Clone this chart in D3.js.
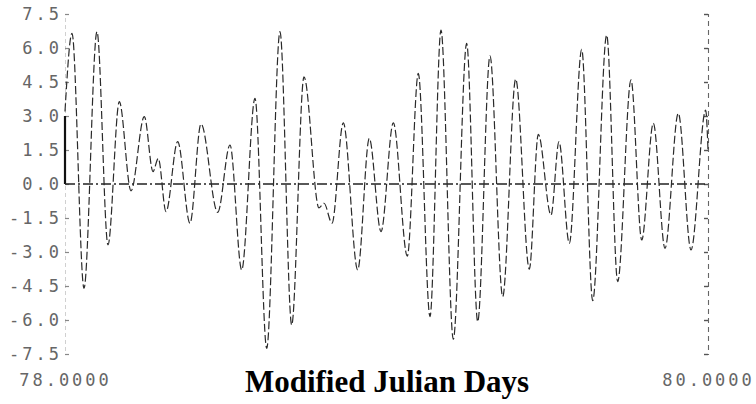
<!DOCTYPE html>
<html>
<head>
<meta charset="utf-8">
<script src="https://cdn.jsdelivr.net/npm/d3@7"></script>
<style>
  html, body { margin: 0; padding: 0; background: #fff; }
  svg { display: block; }
  .tick-label { font-family: "DejaVu Sans Mono", monospace; font-size: 17px; letter-spacing: 3px; fill: #666; }
  .title { font-family: "Liberation Serif", "Times New Roman", serif; font-weight: bold; font-size: 31px; fill: #000; }
</style>
</head>
<body>
<script>
// Residual series: turning points (Modified Julian Day, value)
const mjd = [
  78.0000, 78.0218, 78.0591, 78.0995, 78.1337, 78.1689, 78.2053, 78.2467, 78.2737, 78.2902,
  78.3142, 78.3505, 78.3888, 78.4230, 78.4750, 78.5132, 78.5496, 78.5910, 78.6274, 78.6687,
  78.7051, 78.7434, 78.7900, 78.8056, 78.8305, 78.8656, 78.9104, 78.9465, 78.9829, 79.0212,
  79.0647, 79.0989, 79.1353, 79.1695, 79.2078, 79.2494, 79.2837, 79.3219, 79.3614, 79.4019,
  79.4442, 79.4722, 79.5117, 79.5365, 79.5686, 79.6072, 79.6414, 79.6849, 79.7191, 79.7605,
  79.7938, 79.8299, 79.8663, 79.9076, 79.9471, 79.9928, 80.0000
];
const values = [
  3.20, 6.65, -4.60, 6.72, -2.69, 3.63, -0.30, 2.97, 0.55, 1.13,
  -1.22, 1.87, -1.73, 2.65, -1.25, 1.72, -3.79, 3.78, -7.25, 6.72,
  -6.22, 4.73, -1.05, -0.85, -1.73, 2.70, -3.79, 2.01, -2.10, 2.70,
  -3.18, 4.88, -5.85, 6.79, -6.85, 6.20, -6.07, 5.65, -4.97, 4.63,
  -3.76, 2.19, -1.37, 1.87, -2.62, 5.94, -5.15, 6.57, -4.31, 4.59,
  -2.47, 2.68, -2.84, 3.12, -2.91, 3.26, 1.50
];

const yTicks = [7.5, 6.0, 4.5, 3.0, 1.5, 0.0, -1.5, -3.0, -4.5, -6.0, -7.5];
const yTickLabels = ["7.5", "6.0", "4.5", "3.0", "1.5", "0.0", "-1.5", "-3.0", "-4.5", "-6.0", "-7.5"];
const xTicks = [78, 80];
const xTickLabels = ["78.0000", "80.0000"];
const xTitle = "Modified Julian Days";

const W = 756, H = 404;
const plotLeft = 65, plotRight = 708, plotTop = 14, plotBottom = 354;

const svg = d3.select("body").append("svg").attr("width", W).attr("height", H);

const x = d3.scaleLinear().domain([78, 80]).range([plotLeft, plotRight]);
const y = d3.scaleLinear().domain([-7.5, 7.5]).range([plotBottom, plotTop]);

// left axis (faint), with its darker stretch between 0 and 3
const yAxis = d3.axisLeft(y)
  .tickValues(yTicks)
  .tickFormat((d, i) => yTickLabels[i])
  .tickSize(-4)
  .tickPadding(3);
const gy = svg.append("g").attr("transform", `translate(${plotLeft},0)`).call(yAxis);
gy.select(".domain").attr("stroke", "#d0d0d0").attr("stroke-dasharray", "4 3");
gy.selectAll(".tick line").attr("stroke", "#888").attr("stroke-width", 1.2);
gy.selectAll(".tick text").attr("class", "tick-label").attr("fill", null);
svg.append("line")
  .attr("x1", x(78)).attr("x2", x(78))
  .attr("y1", y(3.0)).attr("y2", y(0))
  .attr("stroke", "#111").attr("stroke-width", 2.2);

// right axis, dashed
const yAxisR = d3.axisRight(y).tickValues(yTicks).tickFormat("").tickSize(-4);
const gr = svg.append("g").attr("transform", `translate(${plotRight},0)`).call(yAxisR);
gr.select(".domain").attr("stroke", "#666").attr("stroke-dasharray", "5 4").attr("stroke-width", 1.1);
gr.selectAll(".tick line").attr("stroke", "#555").attr("stroke-width", 1.4);

// zero reference line, dash-dot
svg.append("line")
  .attr("x1", x(78)).attr("x2", x(80))
  .attr("y1", y(0)).attr("y2", y(0))
  .attr("stroke", "#222").attr("stroke-width", 1.3)
  .attr("stroke-dasharray", "10 3 2 3");

// x tick labels
const xAxis = d3.axisBottom(x)
  .tickValues(xTicks)
  .tickFormat((d, i) => xTickLabels[i])
  .tickSize(0)
  .tickPadding(0);
const gx = svg.append("g").attr("transform", `translate(0,374)`).call(xAxis);
gx.select(".domain").remove();
gx.selectAll(".tick text").attr("class", "tick-label").attr("fill", null);

// series
const pts = mjd.map((d, i) => [d, values[i]]);
const line = d3.line()
  .x(d => x(d[0]))
  .y(d => y(d[1]))
  .curve(d3.curveMonotoneX);
svg.append("path")
  .datum(pts)
  .attr("d", line)
  .attr("fill", "none")
  .attr("stroke", "#2a2a2a")
  .attr("stroke-width", 1.2)
  .attr("stroke-dasharray", "8 3");

// axis title
svg.append("text")
  .attr("class", "title")
  .attr("x", 387)
  .attr("y", 392)
  .attr("text-anchor", "middle")
  .text(xTitle);
</script>
</body>
</html>
